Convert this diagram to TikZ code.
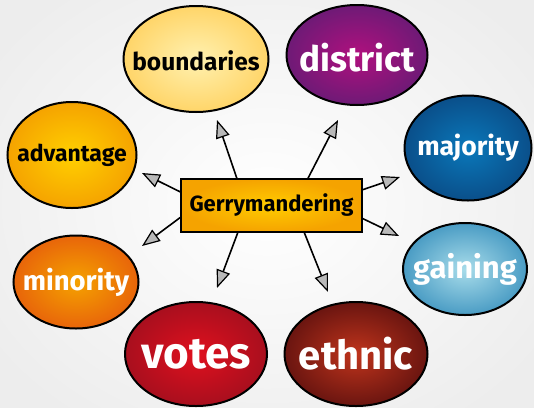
\documentclass[tikz,border=0pt]{standalone}
\usepackage{fontspec}
\setmainfont{Fira Sans}
\usetikzlibrary{arrows.meta,shapes.geometric,calc}
\definecolor{bndI}{HTML}{FFF1B0}\definecolor{bndO}{HTML}{FFD569}
\definecolor{disI}{HTML}{B0107E}\definecolor{disO}{HTML}{6E1A76}
\definecolor{advI}{HTML}{FFD000}\definecolor{advO}{HTML}{F5A300}
\definecolor{majI}{HTML}{0A78BA}\definecolor{majO}{HTML}{0A4F8A}
\definecolor{minI}{HTML}{F5A200}\definecolor{minO}{HTML}{E8650A}
\definecolor{gaiI}{HTML}{A8DCEA}\definecolor{gaiO}{HTML}{4A9CC4}
\definecolor{votI}{HTML}{E0101E}\definecolor{votO}{HTML}{A80F1E}
\definecolor{ethI}{HTML}{C0341C}\definecolor{ethO}{HTML}{6A1510}
\definecolor{boxI}{HTML}{FFCC00}\definecolor{boxO}{HTML}{F5A300}
\tikzset{
  bubble/.style={ellipse, draw=black, line width=2pt, inner sep=0pt},
  word/.style={inner sep=0pt},
  topic/.style={rectangle, draw=black, line width=1.6pt, inner sep=0pt,
    minimum width=181pt, minimum height=53pt, shading=radial,
    inner color=boxI, outer color=boxO, font=\bfseries\fontsize{22}{26}\selectfont},
  link/.style={line width=1.6pt, -{Triangle[length=18pt,width=14pt,fill=gray!55,line width=1.2pt]}}
}
\begin{document}
\begin{tikzpicture}[x=1pt,y=-1pt]
\useasboundingbox (0,0) rectangle (534,407);
\fill[shading=radial, inner color=white, outer color=black!7] (-60,-60) rectangle (594,467);
% bubbles
\node[bubble, minimum width=145pt, minimum height=106pt, shading=radial, inner color=bndI, outer color=bndO] (bnd) at (196,59) {};
\node[bubble, minimum width=141pt, minimum height=100pt, shading=radial, inner color=disI, outer color=disO] (dis) at (357,55) {};
\node[bubble, minimum width=129pt, minimum height=106pt, shading=radial, inner color=advI, outer color=advO] (adv) at (72,155) {};
\node[bubble, minimum width=127pt, minimum height=105pt, shading=radial, inner color=majI, outer color=majO] (maj) at (468,148) {};
\node[bubble, minimum width=125pt, minimum height=93pt, shading=radial, inner color=minI, outer color=minO] (min) at (76,282) {};
\node[bubble, minimum width=124pt, minimum height=92pt, shading=radial, inner color=gaiI, outer color=gaiO] (gai) at (465,269) {};
\node[bubble, minimum width=142pt, minimum height=104pt, shading=radial, inner color=votI, outer color=votO] (vot) at (196,354) {};
\node[bubble, minimum width=143pt, minimum height=104pt, shading=radial, inner color=ethI, outer color=ethO] (eth) at (356,354) {};
% words
\node[word, font=\bfseries\fontsize{24.5}{28}\selectfont] (bndT) at ($(bnd.center)+(0,2)$) {boundaries};
\node[word, text=white, font=\bfseries\fontsize{35}{38}\selectfont] (disT) at ($(dis.center)+(0,3)$) {district};
\node[word, font=\bfseries\fontsize{23}{26}\selectfont] (advT) at (adv.center) {advantage};
\node[word, text=white, font=\bfseries\fontsize{26.5}{30}\selectfont] (majT) at (maj.center) {majority};
\node[word, text=white, font=\bfseries\fontsize{27.5}{31}\selectfont] (minT) at (min.center) {minority};
\node[word, text=white, font=\bfseries\fontsize{31}{34}\selectfont] (gaiT) at (gai.center) {gaining};
\node[word, text=white, font=\bfseries\fontsize{44}{48}\selectfont] (votT) at (vot.center) {votes};
\node[word, text=white, font=\bfseries\fontsize{40}{44}\selectfont] (ethT) at (eth.center) {ethnic};
% central topic
\node[topic] (box) at (271.5,205.5) {Gerrymandering};
% arrow tips
\coordinate (tbnd) at (217,120);
\coordinate (tdis) at (338,120);
\coordinate (tadv) at (142,173);
\coordinate (tmin) at (142,246);
\coordinate (tmaj) at (400,177);
\coordinate (tgai) at (399,236);
\coordinate (tvot) at (217,288);
\coordinate (teth) at (328,292);
\draw[link] ($(box.north west)!0.31!(box.north east)$) -- (tbnd);
\draw[link] ($(box.north west)!0.70!(box.north east)$) -- (tdis);
\draw[link] ($(box.north west)!0.25!(box.south west)$) -- (tadv);
\draw[link] ($(box.north west)!0.72!(box.south west)$) -- (tmin);
\draw[link] ($(box.north east)!0.21!(box.south east)$) -- (tmaj);
\draw[link] ($(box.north east)!0.74!(box.south east)$) -- (tgai);
\draw[link] ($(box.south west)!0.315!(box.south east)$) -- (tvot);
\draw[link] ($(box.south west)!0.68!(box.south east)$) -- (teth);
\end{tikzpicture}
\end{document}
